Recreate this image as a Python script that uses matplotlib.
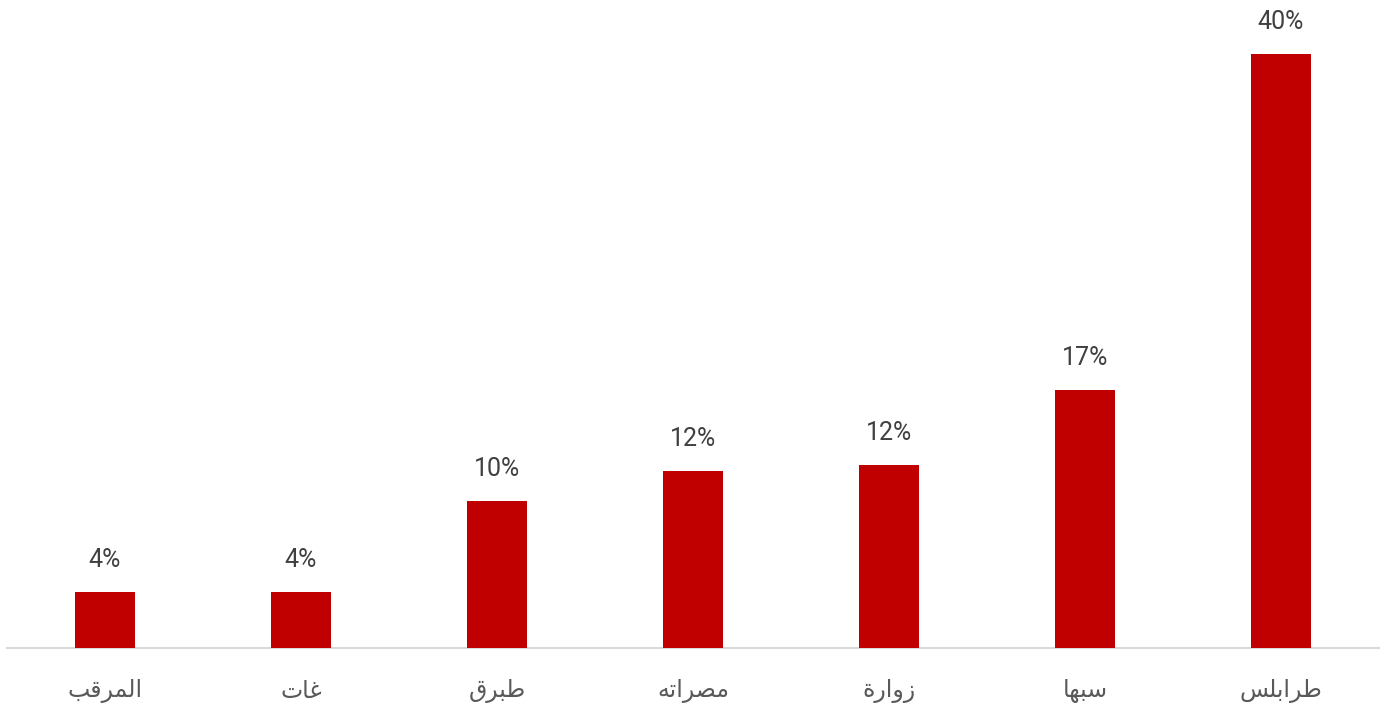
import matplotlib.pyplot as plt

# share by city (%), left to right
cities = ["المرقب", "غات", "طبرق", "مصراته", "زوارة", "سبها", "طرابلس"]
shares = [3.8, 3.8, 9.9, 11.9, 12.3, 17.4, 40.0]

BAR_COLOR = "#C00000"
TEXT_COLOR = "#404040"

# Arabic presentation forms: (isolated, final, initial, medial)
FORMS = {
    "ا": ("\uFE8D", "\uFE8E", None, None),
    "ب": ("\uFE8F", "\uFE90", "\uFE91", "\uFE92"),
    "ة": ("\uFE93", "\uFE94", None, None),
    "ت": ("\uFE95", "\uFE96", "\uFE97", "\uFE98"),
    "ر": ("\uFEAD", "\uFEAE", None, None),
    "ز": ("\uFEAF", "\uFEB0", None, None),
    "س": ("\uFEB1", "\uFEB2", "\uFEB3", "\uFEB4"),
    "ص": ("\uFEB9", "\uFEBA", "\uFEBB", "\uFEBC"),
    "ط": ("\uFEC1", "\uFEC2", "\uFEC3", "\uFEC4"),
    "غ": ("\uFECD", "\uFECE", "\uFECF", "\uFED0"),
    "ق": ("\uFED5", "\uFED6", "\uFED7", "\uFED8"),
    "ل": ("\uFEDD", "\uFEDE", "\uFEDF", "\uFEE0"),
    "م": ("\uFEE1", "\uFEE2", "\uFEE3", "\uFEE4"),
    "ه": ("\uFEE9", "\uFEEA", "\uFEEB", "\uFEEC"),
    "و": ("\uFEED", "\uFEEE", None, None),
}


def shape_arabic(word):
    # pick contextual glyphs, then reverse for right-to-left display
    out = []
    for i, ch in enumerate(word):
        forms = FORMS.get(ch)
        if forms is None:
            out.append(ch)
            continue
        prev = word[i - 1] if i > 0 else None
        nxt = word[i + 1] if i + 1 < len(word) else None
        joins_prev = prev in FORMS and FORMS[prev][2] is not None
        joins_next = forms[2] is not None and nxt in FORMS
        if joins_prev and joins_next:
            out.append(forms[3])
        elif joins_prev:
            out.append(forms[1])
        elif joins_next:
            out.append(forms[2])
        else:
            out.append(forms[0])
    return "".join(reversed(out))


fig = plt.figure(figsize=(13.86, 7.13), dpi=100)
ax = fig.add_axes([0.005, 0.0912, 0.99, 0.895])

x = range(len(cities))
bars = ax.bar(x, shares, width=0.31, color=BAR_COLOR, zorder=3)

for rect, v in zip(bars, shares):
    ax.annotate(f"{v:.0f}%", (rect.get_x() + rect.get_width() / 2, rect.get_height()),
                xytext=(0, 32), textcoords="offset pixels", ha="center", va="center",
                fontsize=18, family="Roboto", color=TEXT_COLOR)

ax.set_xlim(-0.5, len(cities) - 0.5)
ax.set_ylim(0, 43.0)
ax.set_xticks(list(x))
ax.set_xticklabels([shape_arabic(c) for c in cities], fontsize=17,
                   family="DejaVu Sans", color="#595959")
ax.tick_params(axis="x", length=0, pad=22)
ax.set_yticks([])

for side in ["top", "right", "left"]:
    ax.spines[side].set_visible(False)
ax.spines["bottom"].set_color("#D9D9D9")
ax.spines["bottom"].set_linewidth(1.5)

fig.savefig("out.png", dpi=100)
